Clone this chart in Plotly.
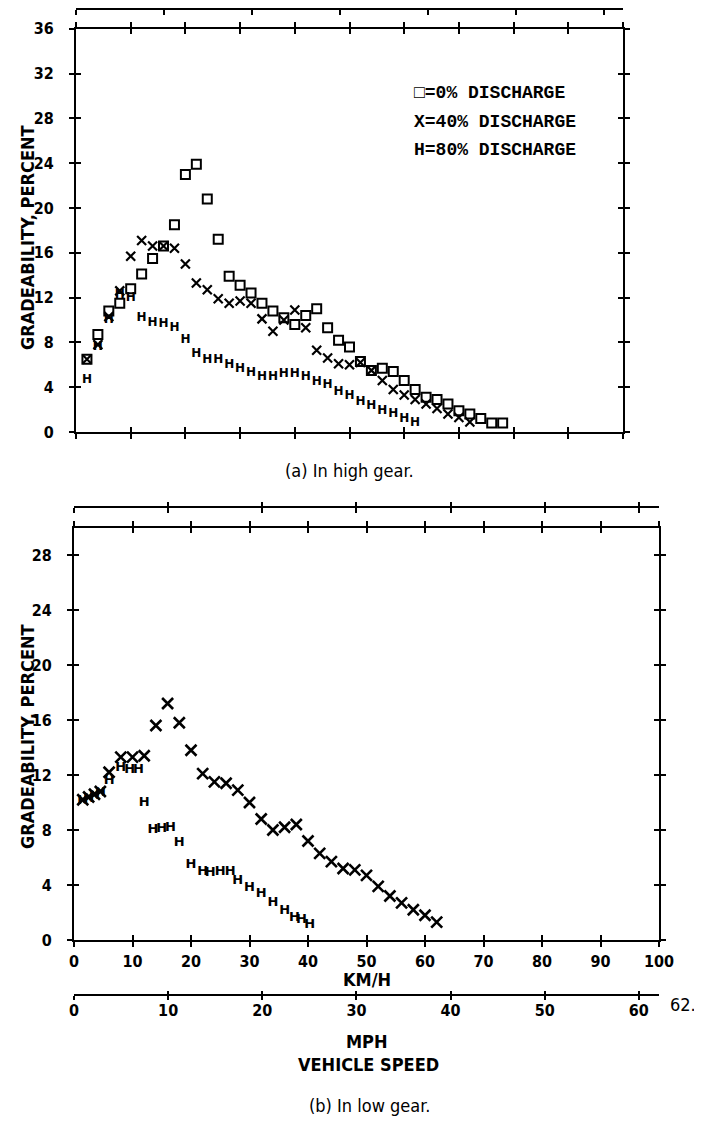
import plotly.graph_objects as go

# ---------------- data ----------------
# (a) high gear, vehicle speed km/h vs gradeability %
hi_sq_speed = [2, 4, 6, 8, 10, 12, 14, 16, 18, 20, 22, 24, 26, 28, 30, 32, 34, 36, 38, 40,
               42, 44, 46, 48, 50, 52, 54, 56, 58, 60, 62, 64, 66, 68, 70, 72, 74, 76, 78]
hi_sq_grade = [6.5, 8.7, 10.8, 11.5, 12.8, 14.1, 15.5, 16.6, 18.5, 23.0, 23.9, 20.8, 17.2, 13.9,
               13.1, 12.4, 11.5, 10.8, 10.2, 9.6, 10.4, 11.0, 9.3, 8.2, 7.6, 6.3, 5.5, 5.7, 5.4,
               4.6, 3.8, 3.1, 2.9, 2.5, 1.9, 1.6, 1.2, 0.8, 0.8]
hi_x_speed = [2, 4, 6, 8, 10, 12, 14, 16, 18, 20, 22, 24, 26, 28, 30, 32, 34, 36, 38, 40,
              42, 44, 46, 48, 50, 52, 54, 56, 58, 60, 62, 64, 66, 68, 70, 72]
hi_x_grade = [6.5, 7.8, 10.3, 12.6, 15.7, 17.1, 16.6, 16.6, 16.4, 15.0, 13.3, 12.7, 11.9, 11.5,
              11.7, 11.5, 10.1, 9.0, 10.0, 10.9, 9.3, 7.3, 6.6, 6.1, 6.0, 6.2, 5.5, 4.6, 3.8,
              3.3, 2.9, 2.5, 2.1, 1.6, 1.3, 0.9]
hi_h_speed = [2, 4, 6, 8, 10, 12, 14, 16, 18, 20, 22, 24, 26, 28, 30, 32, 34, 36, 38, 40,
              42, 44, 46, 48, 50, 52, 54, 56, 58, 60, 62]
hi_h_grade = [4.6, 7.6, 10.0, 12.2, 12.0, 10.2, 9.7, 9.6, 9.3, 8.2, 7.0, 6.4, 6.4, 6.0, 5.6,
              5.3, 4.9, 4.9, 5.2, 5.2, 4.9, 4.5, 4.2, 3.6, 3.2, 2.7, 2.3, 1.9, 1.6, 1.2, 0.8]

# (b) low gear
lo_x_speed = [1.5, 2.5, 3.5, 4.5, 6, 8, 10, 12, 14, 16, 18, 20, 22, 24, 26, 28, 30, 32, 34,
              36, 38, 40, 42, 44, 46, 48, 50, 52, 54, 56, 58, 60, 62]
lo_x_grade = [10.2, 10.4, 10.6, 10.8, 12.2, 13.3, 13.3, 13.4, 15.6, 17.2, 15.8, 13.8, 12.1,
              11.5, 11.4, 10.9, 10.0, 8.8, 8.0, 8.2, 8.4, 7.2, 6.3, 5.7, 5.2, 5.1, 4.7, 3.9,
              3.2, 2.7, 2.2, 1.8, 1.3]
lo_h_speed = [1.5, 2.5, 3.5, 4.5, 6, 8, 9.5, 11, 12, 13.5, 15, 16.5, 18, 20, 22, 23.3, 25,
              26.7, 28, 30, 32, 34, 36, 37.7, 38.9, 40.3]
lo_h_grade = [10.1, 10.3, 10.5, 10.7, 11.6, 12.5, 12.4, 12.4, 10.0, 8.0, 8.1, 8.2, 7.1, 5.5,
              5.0, 4.9, 5.0, 5.0, 4.3, 3.8, 3.4, 2.7, 2.1, 1.6, 1.5, 1.1]

legend_labels = ["\u25a1=0% DISCHARGE", "X=40% DISCHARGE", "H=80% DISCHARGE"]
KMH_MAX = 100
MPH_MAX = 62.14
hi_y_max = 36
lo_y_max = 30

# ---------------- layout helpers ----------------
# the page body adds an 8px margin, so the figure is shrunk and positions are shifted
OFF = 8
W, H = 702 - OFF, 1123 - OFF
def fx(p):
    return (p - OFF) / W
def fy(p):
    return 1 - (p - OFF) / H

NARROW = "Liberation Sans Narrow, DejaVu Sans Condensed, Liberation Sans"
TICK_FONT = dict(family=NARROW, size=16, color="black", weight="bold")

top_xdom = [fx(76), fx(623)]
top_ydom = [fy(432), fy(28.8)]
bot_xdom = [fx(74), fx(659)]
bot_ydom = [fy(940), fy(527.5)]

fig = go.Figure()

def dummy(xa, ya, x0=0):
    fig.add_trace(go.Scatter(x=[x0], y=[0], xaxis=xa, yaxis=ya, mode="markers",
                             marker=dict(size=1, opacity=0), showlegend=False, hoverinfo="skip"))

sq_marker = dict(symbol="square-open", size=9, color="black", line=dict(width=2, color="black"))
x_marker_hi = dict(symbol="x-thin", size=9, color="black", line=dict(width=2.2, color="black"))
x_marker_lo = dict(symbol="x-thin", size=11, color="black", line=dict(width=2.6, color="black"))
h_font_hi = dict(family="DejaVu Sans", size=12, color="black", weight="bold")
h_font_lo = dict(family="DejaVu Sans", size=13, color="black", weight="bold")

# top plot traces
fig.add_trace(go.Scatter(x=hi_sq_speed, y=hi_sq_grade, mode="markers", marker=sq_marker,
                         xaxis="x", yaxis="y", showlegend=False))
fig.add_trace(go.Scatter(x=hi_x_speed, y=hi_x_grade, mode="markers", marker=x_marker_hi,
                         xaxis="x", yaxis="y", showlegend=False))
fig.add_trace(go.Scatter(x=hi_h_speed, y=hi_h_grade, mode="text", text=["H"] * len(hi_h_speed),
                         textfont=h_font_hi, textposition="middle center",
                         xaxis="x", yaxis="y", showlegend=False))
# bottom plot traces
fig.add_trace(go.Scatter(x=lo_x_speed, y=lo_x_grade, mode="markers", marker=x_marker_lo,
                         xaxis="x2", yaxis="y2", showlegend=False))
fig.add_trace(go.Scatter(x=lo_h_speed, y=lo_h_grade, mode="text", text=["H"] * len(lo_h_speed),
                         textfont=h_font_lo, textposition="middle center",
                         xaxis="x2", yaxis="y2", showlegend=False))

base_ax = dict(showgrid=False, zeroline=False, showline=True, linecolor="black", linewidth=2,
               ticks="outside", ticklen=5, tickwidth=2, tickcolor="black", mirror="ticks",
               tickfont=TICK_FONT, fixedrange=True, automargin=False)
in_ax = dict(showgrid=False, zeroline=False, showline=False, ticks="inside", ticklen=5,
             tickwidth=2, tickcolor="black", mirror="ticks", showticklabels=False,
             fixedrange=True, automargin=False)

layout = dict(
    width=W, height=H, margin=dict(l=0, r=0, t=0, b=0, autoexpand=False),
    paper_bgcolor="white", plot_bgcolor="white", showlegend=False,
    xaxis=dict(base_ax, domain=top_xdom, range=[0, KMH_MAX], dtick=10, tick0=0,
               showticklabels=False, anchor="y"),
    yaxis=dict(base_ax, domain=top_ydom, range=[0, hi_y_max], dtick=4, tick0=0, anchor="x",
               ticklabelstandoff=12),
    xaxis2=dict(base_ax, domain=bot_xdom, range=[0, KMH_MAX], dtick=10, tick0=0, anchor="y2",
                ticklabelstandoff=1),
    yaxis2=dict(base_ax, domain=bot_ydom, range=[0, lo_y_max], dtick=4, tick0=0, anchor="x2",
                ticklabelstandoff=12),
    # inside ticks to form crosses
    xaxis3=dict(in_ax, range=[0, KMH_MAX], dtick=10, tick0=0, overlaying="x", anchor="y"),
    yaxis3=dict(in_ax, range=[0, hi_y_max], dtick=4, tick0=0, overlaying="y", anchor="x"),
    xaxis4=dict(in_ax, range=[0, KMH_MAX], dtick=10, tick0=0, overlaying="x2", anchor="y2"),
    yaxis4=dict(in_ax, range=[0, lo_y_max], dtick=4, tick0=0, overlaying="y2", anchor="x2"),
    # mph lines
    xaxis5=dict(base_ax, mirror=False, range=[0, MPH_MAX], dtick=10, tick0=0, overlaying="x",
                anchor="free", position=fy(9), showticklabels=False, side="bottom"),
    xaxis6=dict(in_ax, mirror=False, range=[0, MPH_MAX], dtick=10, tick0=0, overlaying="x",
                anchor="free", position=fy(9), side="bottom"),
    xaxis7=dict(base_ax, mirror=False, range=[0, MPH_MAX], dtick=10, tick0=0, overlaying="x2",
                anchor="free", position=fy(507), showticklabels=False, side="bottom"),
    xaxis8=dict(in_ax, mirror=False, range=[0, MPH_MAX], dtick=10, tick0=0, overlaying="x2",
                anchor="free", position=fy(507), side="bottom"),
    xaxis9=dict(base_ax, mirror=False, range=[0, MPH_MAX], dtick=10, tick0=0, overlaying="x2",
                anchor="free", position=fy(995), side="bottom", ticklen=4, ticklabelstandoff=-3),
    xaxis10=dict(in_ax, mirror=False, range=[0, MPH_MAX], dtick=10, tick0=0, overlaying="x2",
                 anchor="free", position=fy(995), side="bottom", ticklen=4),
)
fig.update_layout(**layout)

dummy("x3", "y"); dummy("x", "y3"); dummy("x4", "y2"); dummy("x2", "y4")
for xa, ya in [("x5", "y"), ("x6", "y"), ("x7", "y2"), ("x8", "y2"), ("x9", "y2"), ("x10", "y2")]:
    dummy(xa, ya)

ann = []
legend_font = dict(family="Liberation Mono, DejaVu Sans Mono", size=18, color="black", weight="bold")
for i, lab in enumerate(legend_labels):
    ann.append(dict(x=fx(412), y=fy(93 + 28.5 * i), xref="paper", yref="paper", text=lab,
                    showarrow=False, xanchor="left", yanchor="middle", font=legend_font))
ytitle_font = dict(family=NARROW, size=18, color="black", weight="bold")
ann.append(dict(x=fx(27), y=fy(238), xref="paper", yref="paper", text="GRADEABILITY, PERCENT",
                textangle=-90, showarrow=False, xanchor="center", yanchor="middle", font=ytitle_font))
ann.append(dict(x=fx(27), y=fy(737), xref="paper", yref="paper", text="GRADEABILITY, PERCENT",
                textangle=-90, showarrow=False, xanchor="center", yanchor="middle", font=ytitle_font))
cap_font = dict(family=NARROW, size=18, color="black")
ann.append(dict(x=fx(349), y=fy(470), xref="paper", yref="paper", text="(a) In high gear.",
                showarrow=False, xanchor="center", yanchor="middle", font=cap_font))
ann.append(dict(x=fx(369), y=fy(1105), xref="paper", yref="paper", text="(b) In low gear.",
                showarrow=False, xanchor="center", yanchor="middle", font=cap_font))
lab_font = dict(family=NARROW, size=18, color="black", weight="bold")
ann.append(dict(x=fx(367), y=fy(979), xref="paper", yref="paper", text="KM/H",
                showarrow=False, xanchor="center", yanchor="middle", font=lab_font))
ann.append(dict(x=fx(367), y=fy(1041), xref="paper", yref="paper", text="MPH",
                showarrow=False, xanchor="center", yanchor="middle", font=lab_font))
ann.append(dict(x=fx(368), y=fy(1064), xref="paper", yref="paper", text="VEHICLE SPEED",
                showarrow=False, xanchor="center", yanchor="middle", font=lab_font))
ann.append(dict(x=fx(668), y=fy(1004), xref="paper", yref="paper", text="62.",
                showarrow=False, xanchor="left", yanchor="middle",
                font=dict(family=NARROW, size=18, color="black")))
fig.update_layout(annotations=ann)

fig.write_html("out.html")
